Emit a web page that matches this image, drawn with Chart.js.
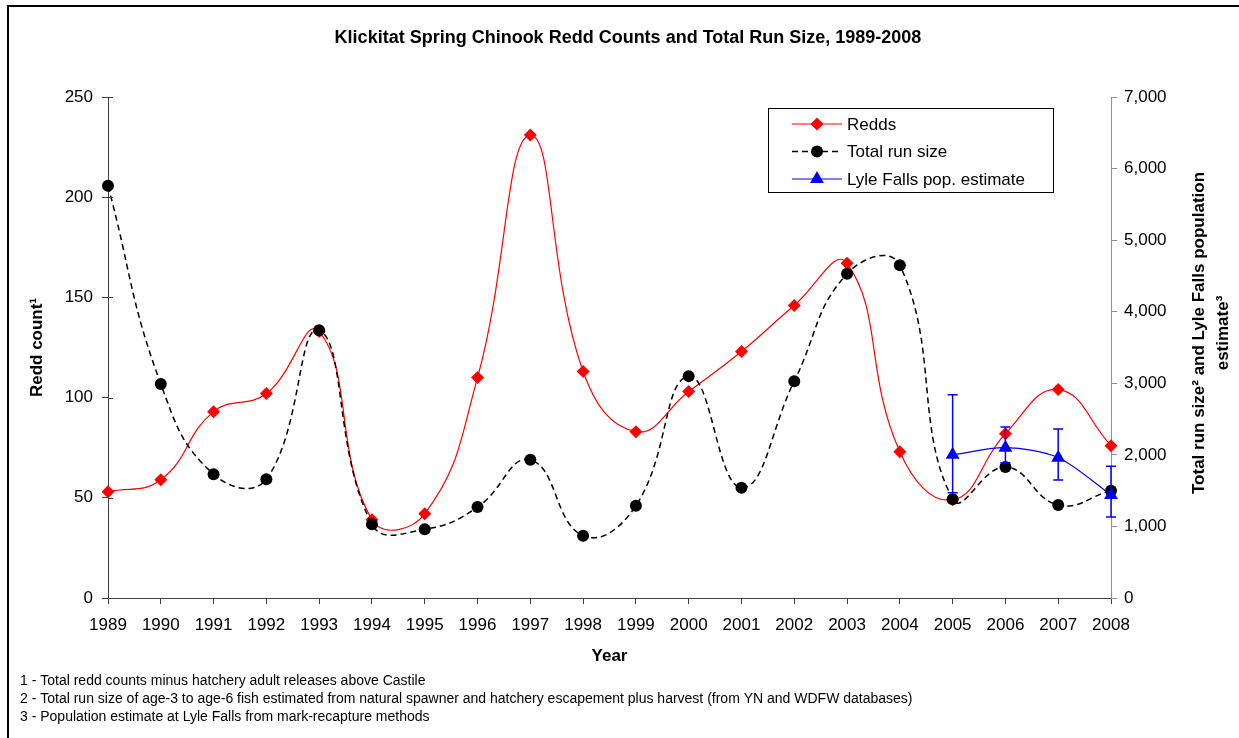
<!DOCTYPE html>
<html>
<head>
<meta charset="utf-8">
<script src="https://cdn.jsdelivr.net/npm/chart.js@4/dist/chart.umd.min.js"></script>
<style>
  html, body { margin: 0; padding: 0; background: #fff; }
  #wrap { width: 1239px; height: 738px; position: relative; }
</style>
</head>
<body>
<div id="wrap"><canvas id="reddChart"></canvas></div>
<script>
// values
const years = ['1989','1990','1991','1992','1993','1994','1995','1996','1997','1998',
               '1999','2000','2001','2002','2003','2004','2005','2006','2007','2008'];
const redds = [53, 59, 93, 102, 133, 39, 42, 110, 231, 113, 83, 103, 123, 146, 167, 73, 49, 82, 104, 76];
const runSize = [5760, 2990, 1730, 1660, 3740, 1030, 960, 1270, 1930, 870,
                 1290, 3100, 1540, 3030, 4530, 4650, 1380, 1830, 1300, 1500];
const lyleYears = ['2005', '2006', '2007', '2008'];
const lyleEstimate = [2000, 2100, 1960, 1440];
const lyleLow = [1470, 1890, 1650, 1130];
const lyleHigh = [2840, 2390, 2360, 1840];

const leftTicks = [0, 50, 100, 150, 200, 250];
const rightTicks = [0, 1000, 2000, 3000, 4000, 5000, 6000, 7000];

const footnotes = [
    '1 - Total redd counts minus hatchery adult releases above Castile',
    '2 - Total run size of age-3 to age-6 fish estimated from natural spawner and hatchery escapement plus harvest (from YN and WDFW databases)',
    '3 - Population estimate at Lyle Falls from mark-recapture methods'
];

const FONT = "'Liberation Sans', Arial, sans-serif";

// extra bits: frame, title, right axis title, notes, legend, error bars
const extras = {
    id: 'extras',
    afterDraw(chart) {
        const ctx = chart.ctx;
        const y1 = chart.scales.y1;
        const x = chart.scales.x;
        ctx.save();

        // outer frame (cut off at right/bottom like the reference)
        ctx.strokeStyle = '#000';
        ctx.lineWidth = 2;
        ctx.beginPath();
        ctx.moveTo(8, 745);
        ctx.lineTo(8, 6);
        ctx.lineTo(1245, 6);
        ctx.stroke();

        // title
        ctx.fillStyle = '#000';
        ctx.textAlign = 'center';
        ctx.textBaseline = 'middle';
        ctx.font = 'bold 18px ' + FONT;
        ctx.fillText('Klickitat Spring Chinook Redd Counts and Total Run Size, 1989-2008', 628, 38, 594);

        // right axis title, reading bottom to top
        ctx.save();
        ctx.translate(1199, 333);
        ctx.rotate(-Math.PI / 2);
        ctx.font = 'bold 17px ' + FONT;
        ctx.fillText('Total run size\u00B2 and Lyle Falls population', 0, 0);
        ctx.fillText('estimate\u00B3', 0, 24);
        ctx.restore();

        // footnotes
        ctx.textAlign = 'left';
        ctx.font = '14px ' + FONT;
        const widths = [420, 903, 421];
        footnotes.forEach((t, i) => {
            ctx.fillText(t, 20, 681 + i * 18, widths[i]);
        });

        // left axis inner tick halves
        ctx.strokeStyle = '#404040';
        ctx.lineWidth = 1;
        const yl = chart.scales.y;
        leftTicks.forEach(v => {
            const py = Math.round(yl.getPixelForValue(v)) + 0.5;
            ctx.beginPath();
            ctx.moveTo(yl.right, py);
            ctx.lineTo(yl.right + 5, py);
            ctx.stroke();
        });

        // error bars on Lyle Falls estimates
        ctx.strokeStyle = '#0000ff';
        ctx.lineWidth = 1.5;
        lyleYears.forEach((yr, i) => {
            const px = x.getPixelForValue(years.indexOf(yr));
            const top = y1.getPixelForValue(lyleHigh[i]);
            const bot = y1.getPixelForValue(lyleLow[i]);
            ctx.beginPath();
            ctx.moveTo(px, top); ctx.lineTo(px, bot);
            ctx.moveTo(px - 5, top); ctx.lineTo(px + 5, top);
            ctx.moveTo(px - 5, bot); ctx.lineTo(px + 5, bot);
            ctx.stroke();
        });

        // legend box
        ctx.strokeStyle = '#000';
        ctx.lineWidth = 1;
        ctx.strokeRect(768.5, 108.5, 285, 84);
        ctx.font = '17px ' + FONT;
        ctx.textBaseline = 'middle';
        chart.data.datasets.forEach((ds, i) => {
            const ly = 124 + i * 27.5;
            ctx.strokeStyle = ds.borderColor;
            ctx.lineWidth = ds.borderWidth;
            ctx.setLineDash(ds.borderDash || []);
            ctx.beginPath();
            ctx.moveTo(792, ly); ctx.lineTo(842, ly);
            ctx.stroke();
            ctx.setLineDash([]);
            ctx.fillStyle = ds.pointBackgroundColor;
            Chart.helpers.drawPoint(ctx, {
                pointStyle: ds.pointStyle, radius: ds.pointRadius, borderWidth: 0
            }, 817, ly);
            ctx.fillStyle = '#000';
            ctx.fillText(ds.label, 847, ly + 1);
        });

        ctx.restore();
    }
};

const ctx = document.getElementById('reddChart');

new Chart(ctx.getContext('2d'), {
    type: 'line',
    data: {
        labels: years,
        datasets: [{
            label: 'Redds',
            data: redds,
            yAxisID: 'y',
            borderColor: '#ff0000',
            backgroundColor: '#ff0000',
            pointBackgroundColor: '#ff0000',
            pointBorderWidth: 0,
            borderWidth: 1.2,
            pointStyle: 'rectRot',
            pointRadius: 6.5,
            tension: 0.45,
            order: 3
        }, {
            label: 'Total run size',
            data: runSize,
            yAxisID: 'y1',
            borderColor: '#000000',
            backgroundColor: '#000000',
            pointBackgroundColor: '#000000',
            pointBorderWidth: 0,
            borderWidth: 1.5,
            borderDash: [6, 4],
            pointStyle: 'circle',
            pointRadius: 6,
            tension: 0.45,
            order: 2
        }, {
            label: 'Lyle Falls pop. estimate',
            data: lyleYears.map((yr, i) => ({ x: yr, y: lyleEstimate[i] })),
            yAxisID: 'y1',
            borderColor: '#0000ff',
            backgroundColor: '#0000ff',
            pointBackgroundColor: '#0000ff',
            pointBorderWidth: 0,
            borderWidth: 1.2,
            pointStyle: 'triangle',
            pointRadius: 8,
            tension: 0.3,
            order: 1
        }]
    },
    options: {
        responsive: true,
        maintainAspectRatio: false,
        animation: false,
        layout: { padding: { top: 97, left: 0, right: 0, bottom: 0 } },
        plugins: {
            legend: { display: false },
            title: { display: false },
            tooltip: { enabled: false }
        },
        scales: {
            x: {
                offset: false,
                afterFit(scale) { scale.height = 140; },
                border: { color: '#404040', width: 1 },
                grid: { drawOnChartArea: false, tickLength: 6, color: '#404040' },
                ticks: {
                    autoSkip: false, maxRotation: 0, padding: 11,
                    color: '#000', font: { family: FONT, size: 17 }
                },
                title: {
                    display: true, text: 'Year', color: '#000',
                    font: { family: FONT, size: 17, weight: 'bold' },
                    padding: { top: 0, bottom: 71 }
                }
            },
            y: {
                position: 'left',
                min: 0, max: 250,
                afterFit(scale) { scale.width = 108; },
                afterBuildTicks(scale) { scale.ticks = leftTicks.map(v => ({ value: v })); },
                border: { color: '#404040', width: 1 },
                grid: { drawOnChartArea: false, tickLength: 6, color: '#404040' },
                ticks: { padding: 9, color: '#000', font: { family: FONT, size: 17 } },
                title: {
                    display: true, text: 'Redd count\u00B9', color: '#000',
                    font: { family: FONT, size: 17, weight: 'bold' },
                    padding: { top: 27, bottom: 0 }
                }
            },
            y1: {
                position: 'right',
                min: 0, max: 7000,
                afterFit(scale) { scale.width = 128; },
                afterBuildTicks(scale) { scale.ticks = rightTicks.map(v => ({ value: v })); },
                border: { color: '#909090', width: 1 },
                grid: { drawOnChartArea: false, tickLength: 6, color: '#909090' },
                ticks: {
                    padding: 7, color: '#000', font: { family: FONT, size: 17 },
                    callback: v => v.toLocaleString('en-US')
                }
            }
        }
    },
    plugins: [extras]
});
</script>
</body>
</html>
